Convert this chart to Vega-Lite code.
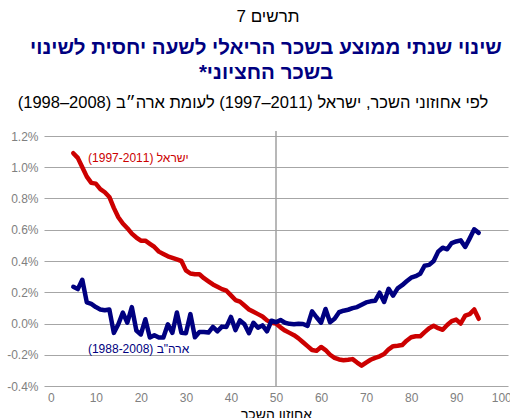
{
  "$schema": "https://vega.github.io/schema/vega-lite/v6.json",
  "background": "white",
  "padding": {"left": 6, "right": 3, "top": 8, "bottom": 5},
  "config": {"font": "Liberation Sans", "view": {"stroke": null}, "concat": {"spacing": 0}},
  "title": {"text": "\u200Fתרשים 7\u200F", "fontSize": 17, "fontWeight": "normal", "color": "black", "anchor": "middle", "frame": "bounds", "offset": 12, "dx": 9},
  "datasets": {
    "isr": [
      {"p":5,"v":1.09},{"p":6,"v":1.06},{"p":7,"v":1.0},{"p":8,"v":0.94},{"p":9,"v":0.9},{"p":10,"v":0.895},
      {"p":11,"v":0.86},{"p":12,"v":0.84},{"p":13,"v":0.81},{"p":14,"v":0.74},{"p":15,"v":0.68},{"p":16,"v":0.64},
      {"p":17,"v":0.61},{"p":18,"v":0.575},{"p":19,"v":0.55},{"p":20,"v":0.53},{"p":21,"v":0.53},{"p":22,"v":0.51},
      {"p":23,"v":0.49},{"p":24,"v":0.46},{"p":25,"v":0.445},{"p":26,"v":0.43},{"p":27,"v":0.42},{"p":28,"v":0.41},
      {"p":29,"v":0.4},{"p":30,"v":0.34},{"p":31,"v":0.32},{"p":32,"v":0.315},{"p":33,"v":0.315},{"p":34,"v":0.29},
      {"p":35,"v":0.27},{"p":36,"v":0.25},{"p":37,"v":0.235},{"p":38,"v":0.22},{"p":39,"v":0.21},{"p":40,"v":0.18},
      {"p":41,"v":0.15},{"p":42,"v":0.14},{"p":43,"v":0.115},{"p":44,"v":0.09},{"p":45,"v":0.075},{"p":46,"v":0.06},
      {"p":47,"v":0.045},{"p":48,"v":0.02},{"p":49,"v":0.005},{"p":50,"v":0.0},{"p":51,"v":-0.025},{"p":52,"v":-0.045},
      {"p":53,"v":-0.06},{"p":54,"v":-0.075},{"p":55,"v":-0.095},{"p":56,"v":-0.12},{"p":57,"v":-0.145},{"p":58,"v":-0.17},
      {"p":59,"v":-0.175},{"p":60,"v":-0.15},{"p":61,"v":-0.17},{"p":62,"v":-0.2},{"p":63,"v":-0.22},{"p":64,"v":-0.23},
      {"p":65,"v":-0.235},{"p":66,"v":-0.232},{"p":67,"v":-0.228},{"p":68,"v":-0.25},{"p":69,"v":-0.27},{"p":70,"v":-0.25},
      {"p":71,"v":-0.232},{"p":72,"v":-0.22},{"p":73,"v":-0.21},{"p":74,"v":-0.195},{"p":75,"v":-0.165},{"p":76,"v":-0.145},
      {"p":77,"v":-0.142},{"p":78,"v":-0.138},{"p":79,"v":-0.11},{"p":80,"v":-0.088},{"p":81,"v":-0.082},{"p":82,"v":-0.082},
      {"p":83,"v":-0.055},{"p":84,"v":-0.03},{"p":85,"v":-0.015},{"p":86,"v":-0.03},{"p":87,"v":-0.04},{"p":88,"v":-0.01},
      {"p":89,"v":0.015},{"p":90,"v":0.025},{"p":91,"v":0.0},{"p":92,"v":0.05},{"p":93,"v":0.06},{"p":94,"v":0.09},
      {"p":95,"v":0.03}
    ],
    "usa": [
      {"p":5,"v":0.235},{"p":6,"v":0.22},{"p":7,"v":0.28},{"p":8,"v":0.135},{"p":9,"v":0.125},{"p":10,"v":0.105},
      {"p":11,"v":0.09},{"p":12,"v":0.085},{"p":13,"v":0.09},{"p":14,"v":-0.06},{"p":15,"v":-0.005},{"p":16,"v":0.07},
      {"p":17,"v":0.005},{"p":18,"v":0.105},{"p":19,"v":-0.045},{"p":20,"v":-0.07},{"p":21,"v":0.027},{"p":22,"v":-0.09},
      {"p":23,"v":-0.075},{"p":24,"v":-0.09},{"p":25,"v":-0.09},{"p":26,"v":-0.005},{"p":27,"v":-0.06},{"p":28,"v":0.07},
      {"p":29,"v":-0.06},{"p":30,"v":-0.062},{"p":31,"v":0.06},{"p":32,"v":-0.088},{"p":33,"v":-0.055},{"p":34,"v":-0.055},
      {"p":35,"v":-0.058},{"p":36,"v":-0.022},{"p":37,"v":-0.05},{"p":38,"v":-0.02},{"p":39,"v":-0.022},{"p":40,"v":0.042},
      {"p":41,"v":-0.042},{"p":42,"v":0.02},{"p":43,"v":-0.005},{"p":44,"v":-0.062},{"p":45,"v":0.005},{"p":46,"v":-0.027},
      {"p":47,"v":-0.012},{"p":48,"v":-0.05},{"p":49,"v":0.018},{"p":50,"v":0.008},{"p":51,"v":0.022},{"p":52,"v":0.005},
      {"p":53,"v":-0.002},{"p":54,"v":-0.005},{"p":55,"v":-0.002},{"p":56,"v":-0.003},{"p":57,"v":-0.015},{"p":58,"v":0.078},
      {"p":59,"v":0.04},{"p":60,"v":0.005},{"p":61,"v":0.093},{"p":62,"v":0.008},{"p":63,"v":0.03},{"p":64,"v":0.072},
      {"p":65,"v":0.082},{"p":66,"v":0.088},{"p":67,"v":0.098},{"p":68,"v":0.105},{"p":69,"v":0.12},{"p":70,"v":0.135},
      {"p":71,"v":0.142},{"p":72,"v":0.145},{"p":73,"v":0.197},{"p":74,"v":0.138},{"p":75,"v":0.222},{"p":76,"v":0.178},
      {"p":77,"v":0.225},{"p":78,"v":0.245},{"p":79,"v":0.27},{"p":80,"v":0.293},{"p":81,"v":0.303},{"p":82,"v":0.318},
      {"p":83,"v":0.37},{"p":84,"v":0.375},{"p":85,"v":0.4},{"p":86,"v":0.46},{"p":87,"v":0.485},{"p":88,"v":0.475},
      {"p":89,"v":0.515},{"p":90,"v":0.525},{"p":91,"v":0.532},{"p":92,"v":0.49},{"p":93,"v":0.545},{"p":94,"v":0.603},
      {"p":95,"v":0.58}
    ]
  },
  "vconcat": [
    {
      "title": {
        "text": ["\u200Fשינוי שנתי ממוצע בשכר הריאלי לשעה יחסית לשינוי\u200F", "\u200Fבשכר החציוני*\u200F"],
        "fontSize": 20.5,
        "fontWeight": "bold",
        "color": "#000080",
        "lineHeight": 25,
        "anchor": "middle",
        "frame": "bounds",
        "offset": 11,
        "dx": 7
      },
      "vconcat": [
        {
          "width": 464,
          "height": 255,
          "title": {
            "text": "\u200Fלפי אחוזוני השכר, ישראל (\u20661997–2011\u2069) לעומת ארה״ב (\u20661998–2008\u2069)\u200F",
            "fontSize": 16.5,
            "fontWeight": "normal",
            "color": "black",
            "anchor": "middle",
            "frame": "bounds",
            "offset": 19,
            "dx": -6
          },
          "layer": [
            {
              "data": {"values": [{"p": 50}]},
              "mark": {"type": "rule", "color": "#a0a0a0", "strokeWidth": 1.5},
              "encoding": {
                "x": {"field": "p", "type": "quantitative", "scale": {"domain": [-1.5, 101.5], "nice": false, "zero": false},
                  "axis": {"tickValues": [0,5,10,15,20,25,30,35,40,45,50,55,60,65,70,75,80,85,90,95,100], "grid": false, "domain": false, "ticks": false,
                    "labelColor": "#808080", "labelFontSize": 12, "labelPadding": 6, "labelFlush": false,
                    "title": "אחוזון השכר", "titleFontSize": 14, "titleFontWeight": "normal", "titleColor": "black", "titlePadding": 4}}
              }
            },
            {
              "data": {"name": "isr"},
              "mark": {"type": "line", "color": "#cc0000", "strokeWidth": 4.5, "strokeJoin": "round", "strokeCap": "round"},
              "encoding": {
                "x": {"field": "p", "type": "quantitative"},
                "y": {"field": "v", "type": "quantitative", "scale": {"domain": [-0.4, 1.232], "nice": false, "zero": false},
                  "axis": {"tickValues": [-0.4,-0.2,0,0.2,0.4,0.6,0.8,1.0,1.2], "grid": true, "gridColor": "#a6a6a6", "gridWidth": 1.2,
                    "domain": false, "ticks": false, "labelColor": "#808080", "labelFontSize": 12, "labelPadding": 6,
                    "labelExpr": "(datum.value < 0 ? '-' : '') + format(abs(datum.value), '.1f') + '%'", "title": null}}
              }
            },
            {
              "data": {"name": "usa"},
              "mark": {"type": "line", "color": "#000080", "strokeWidth": 4.5, "strokeJoin": "round", "strokeCap": "round"},
              "encoding": {
                "x": {"field": "p", "type": "quantitative"},
                "y": {"field": "v", "type": "quantitative"}
              }
            },
            {
              "data": {"values": [
                {"p": 19.45, "v": 1.059, "t": "ישראל (1997-2011)\u200F", "s": "isr"},
                {"p": 19.5, "v": -0.161, "t": "ארה\"ב (1988-2008)\u200F", "s": "usa"}
              ]},
              "mark": {"type": "text", "align": "center", "baseline": "middle", "fontSize": 12},
              "encoding": {
                "x": {"field": "p", "type": "quantitative"},
                "y": {"field": "v", "type": "quantitative"},
                "text": {"field": "t"},
                "color": {"field": "s", "type": "nominal", "scale": {"domain": ["isr", "usa"], "range": ["#cc0000", "#000080"]}, "legend": null}
              }
            }
          ]
        }
      ]
    }
  ]
}
